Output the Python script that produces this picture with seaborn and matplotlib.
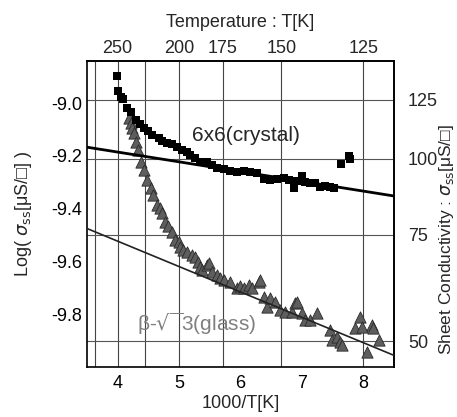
import numpy as np
import matplotlib
matplotlib.use('Agg')
import matplotlib.pyplot as plt
import seaborn as sns

sns.set_theme(style='white')
plt.rcParams['font.family'] = ['Liberation Sans', 'DejaVu Sans']

# 6x6 crystal (squares): 1000/T and log(sigma)
crystal_x = [3.984, 4.005, 4.049, 4.093, 4.158, 4.211, 4.293, 4.363, 4.428, 4.493,
             4.564, 4.672, 4.727, 4.808, 4.889, 4.971, 5.052, 5.133, 5.187, 5.268,
             5.350, 5.459, 5.540, 5.621, 5.728, 5.837, 5.946, 6.054, 6.163, 6.272,
             6.379, 6.488, 6.597, 6.704, 6.785, 6.867, 6.922, 7.003, 7.057, 7.138,
             7.220, 7.301, 7.382, 7.463, 7.517, 7.637, 7.761, 7.789]
crystal_y = [-8.899, -8.956, -8.975, -8.985, -9.019, -9.032, -9.063, -9.080, -9.093, -9.105,
             -9.120, -9.131, -9.143, -9.152, -9.156, -9.165, -9.177, -9.186, -9.196, -9.209,
             -9.222, -9.224, -9.234, -9.245, -9.249, -9.257, -9.260, -9.257, -9.260, -9.266,
             -9.289, -9.291, -9.289, -9.285, -9.291, -9.323, -9.294, -9.276, -9.298, -9.301,
             -9.304, -9.317, -9.314, -9.319, -9.323, -9.232, -9.200, -9.213]

# beta-sqrt3 glass (triangles)
glass_x = [4.184, 4.211, 4.239, 4.265, 4.293, 4.325, 4.374, 4.428, 4.483, 4.537,
           4.585, 4.646, 4.699, 4.727, 4.780, 4.829, 4.889, 4.943, 4.997, 5.024,
           5.073, 5.133, 5.215, 5.268, 5.317, 5.350, 5.377, 5.459, 5.485, 5.545,
           5.621, 5.675, 5.728, 5.837, 5.946, 6.000, 6.054, 6.135, 6.190, 6.298,
           6.325, 6.379, 6.434, 6.488, 6.569, 6.650, 6.732, 6.841, 6.894, 6.922,
           7.003, 7.057, 7.138, 7.247, 7.463, 7.491, 7.572, 7.626, 7.654, 7.870,
           7.951, 7.979, 8.060, 8.141, 8.167, 8.249]
glass_y = [-9.057, -9.075, -9.094, -9.114, -9.146, -9.177, -9.222, -9.253, -9.291, -9.322,
           -9.348, -9.386, -9.397, -9.418, -9.450, -9.466, -9.487, -9.519, -9.525, -9.544,
           -9.557, -9.563, -9.576, -9.582, -9.603, -9.620, -9.633, -9.614, -9.607, -9.640,
           -9.652, -9.663, -9.671, -9.677, -9.702, -9.694, -9.702, -9.690, -9.702, -9.677,
           -9.671, -9.734, -9.772, -9.740, -9.753, -9.785, -9.791, -9.791, -9.759, -9.753,
           -9.797, -9.823, -9.823, -9.797, -9.861, -9.899, -9.886, -9.905, -9.918, -9.854,
           -9.810, -9.848, -9.943, -9.842, -9.854, -9.899]

# fitted lines
fit_x = [3.5, 8.5]
crystal_fit = [-9.167, -9.352]
glass_fit = [-9.475, -9.956]

left_ticks = [-9.8, -9.6, -9.4, -9.2, -9.0]
bottom_ticks = [4, 5, 6, 7, 8]
temp_ticks = [275, 250, 225, 200, 175, 150, 125]
temp_labels = ['', '250', '', '200', '175', '150', '125']
cond_ticks = [50, 75, 100, 125]

fig = plt.figure(figsize=(4.57, 4.17), dpi=100)
ax = fig.add_axes([0.190, 0.120, 0.672, 0.734])
ax.set_xlim(3.5, 8.5)
ax.set_ylim(-10.0, -8.84)

# grid from the temperature and conductivity axes
for t in temp_ticks:
    ax.axvline(1000 / t, color='#444444', lw=0.8, zorder=1)
for c in cond_ticks:
    ax.axhline(np.log(c * 1e-6), color='#555555', lw=0.8, zorder=1)

sns.scatterplot(x=glass_x, y=glass_y, marker='^', s=66, color='#5e5e5e',
                edgecolor='#2a2a2a', linewidth=0.6, ax=ax, zorder=3)
sns.scatterplot(x=crystal_x, y=crystal_y, marker='s', s=26, color='black',
                linewidth=0, ax=ax, zorder=4)
sns.lineplot(x=fit_x, y=crystal_fit, color='black', lw=2.0, ax=ax, zorder=5)
sns.lineplot(x=fit_x, y=glass_fit, color='#222222', lw=1.2, ax=ax, zorder=5)

ax.text(5.215, -9.123, '6x6(crystal)', fontsize=15, ha='left', va='center', zorder=6)
ax.text(4.32, -9.835, r'β-$\sqrt{\ }$3(glass)', fontsize=15, color='#808080',
        ha='left', va='center', zorder=6)

ax.set_xticks(bottom_ticks)
ax.set_yticks(left_ticks)
ax.set_yticklabels(['%.1f' % v for v in left_ticks])
ax.tick_params(direction='in', length=3, width=0.8, labelsize=13, colors='black')
ax.tick_params(axis='x', pad=6)
ax.set_xlabel('1000/T[K]', fontsize=13, labelpad=2)
ax.set_ylabel(r'Log( $\sigma_{\rm ss}$[μS/□] )', fontsize=13, labelpad=12)

top = ax.secondary_xaxis('top', functions=(lambda x: 1000 / x, lambda t: 1000 / t))
top.set_xticks(temp_ticks)
top.set_xticklabels(temp_labels)
top.tick_params(direction='in', length=0, labelsize=13, pad=3)
top.set_xlabel('Temperature : T[K]', fontsize=13, labelpad=9)

right = ax.secondary_yaxis('right', functions=(lambda v: np.exp(v) * 1e6,
                                               lambda r: np.log(r * 1e-6)))
right.set_yticks(cond_ticks)
right.set_yticklabels([str(c) for c in cond_ticks])
right.tick_params(direction='in', length=0, labelsize=13, pad=10)
fig.text(0.977, 0.425, r'Sheet Conductivity : $\sigma_{\rm ss}$[μS/□]', fontsize=12.5,
         rotation=90, ha='center', va='center')

for sp in list(ax.spines.values()) + [top.spines['top'], right.spines['right']]:
    sp.set_color('black')
    sp.set_linewidth(1.2)

fig.savefig('out.png', dpi=100)
